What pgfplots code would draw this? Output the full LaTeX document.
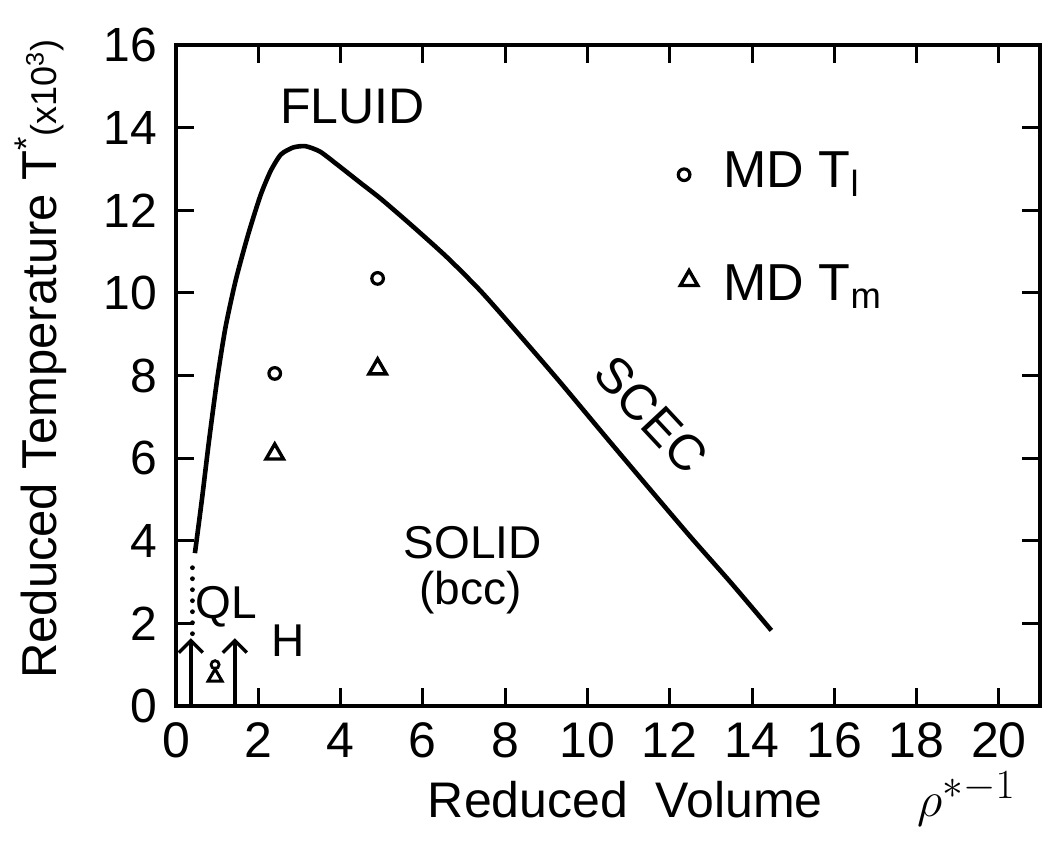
\documentclass[border=0pt]{standalone}
\usepackage{fontspec}
\setmainfont{Liberation Sans}
\usepackage{pgfplots}
\pgfplotsset{compat=1.18}
\usetikzlibrary{arrows.meta}
\begin{document}
\begin{tikzpicture}
\path[use as bounding box] (0,0) rectangle (524pt,428pt);
\begin{axis}[
  at={(88pt,75pt)}, anchor=south west,
  scale only axis, width=432pt, height=330.5pt,
  xmin=0, xmax=21, ymin=0, ymax=16,
  xtick={0,2,...,20}, ytick={0,2,...,16},
  tick align=inside, major tick length=9pt,
  tick style={line width=1.5pt, black},
  axis line style={line width=1.8pt},
  tick label style={font=\fontsize{24}{24}\selectfont},
  xticklabel style={font=\fontsize{25}{25}\selectfont, yshift=-5pt},
  /pgf/number format/assume math mode=true,
  yticklabel style={xshift=-6pt},
  xlabel={Reduced\ \ Volume},
  ylabel={Reduced Temperature T\textsuperscript{*}{\fontsize{18}{18}\selectfont(x10\textsuperscript{3})}},
  xlabel style={at={(axis description cs:0.52,-0.142)}, anchor=center, font=\fontsize{25}{25}\selectfont},
  ylabel style={at={(axis description cs:-0.157,0.525)}, anchor=center, font=\fontsize{24.5}{24.5}\selectfont},
  clip=false,
]
% SCEC melting curve
\addplot[line width=2.3pt, smooth, tension=0.4] coordinates {
 (0.46,3.7) (0.63,5.0) (0.8,6.4) (1.0,7.9) (1.2,9.15) (1.45,10.3) (1.75,11.4)
 (2.05,12.35) (2.3,12.95) (2.55,13.35) (2.85,13.52) (3.15,13.55) (3.5,13.42)
 (3.9,13.12) (4.5,12.65) (5.0,12.26) (5.8,11.57) (6.6,10.85) (7.4,10.05) (8.2,9.15)
 (9.3,7.88) (10.5,6.45) (11.5,5.27) (12.5,4.1) (13.5,2.97) (14.47,1.83)
};
% dotted continuation
\addplot[line width=2.4pt, line cap=round, dash pattern=on 0pt off 5.5pt] coordinates {(0.4,1.75) (0.4,3.5)};
% arrows
\addplot[line width=1.7pt, -{Straight Barb[length=6pt,width=12pt,line width=1.7pt]}] coordinates {(0.36,0) (0.36,1.64)};
\addplot[line width=1.7pt, -{Straight Barb[length=6pt,width=12pt,line width=1.7pt]}] coordinates {(1.43,0) (1.43,1.64)};
% MD T_l (circles)
\addplot[only marks, mark=o, mark size=2.9pt, line width=1.6pt] coordinates {(2.4,8.05) (4.9,10.35) (12.35,12.86)};
\addplot[only marks, mark=o, mark size=2pt, line width=1.4pt] coordinates {(0.95,1.0)};
% MD T_m (triangles)
\addplot[only marks, mark=triangle, mark size=5pt, line width=1.7pt] coordinates {(2.4,6.1) (4.9,8.16) (12.47,10.3)};
\addplot[only marks, mark=triangle, mark size=4pt, line width=1.5pt] coordinates {(0.95,0.7)};
% annotations
\node[font=\fontsize{25}{25}\selectfont] at (axis cs:4.29,14.5) {FLUID};
\node[font=\fontsize{23}{23}\selectfont] at (axis cs:7.21,3.95) {SOLID};
\node[font=\fontsize{23}{23}\selectfont] at (axis cs:7.16,2.75) {(bcc)};
\node[font=\fontsize{25}{25}\selectfont, rotate=-47, inner sep=0pt] at (axis cs:11.55,7.05) {SCEC};
\node[font=\fontsize{23}{23}\selectfont] at (axis cs:1.22,2.41) {QL};
\node[font=\fontsize{23}{23}\selectfont] at (axis cs:2.73,1.59) {H};
\node[font=\fontsize{26}{26}\selectfont, anchor=west, inner sep=0pt] at (axis cs:13.3,12.88) {MD T\textsubscript{l}};
\node[font=\fontsize{26}{26}\selectfont, anchor=west, inner sep=0pt] at (axis cs:13.3,10.15) {MD T\textsubscript{m}};
\node[font=\fontsize{28}{28}\selectfont, inner sep=0pt] at (axis description cs:0.915,-0.14) {$\rho^{*-1}$};
\end{axis}
\end{tikzpicture}
\end{document}
